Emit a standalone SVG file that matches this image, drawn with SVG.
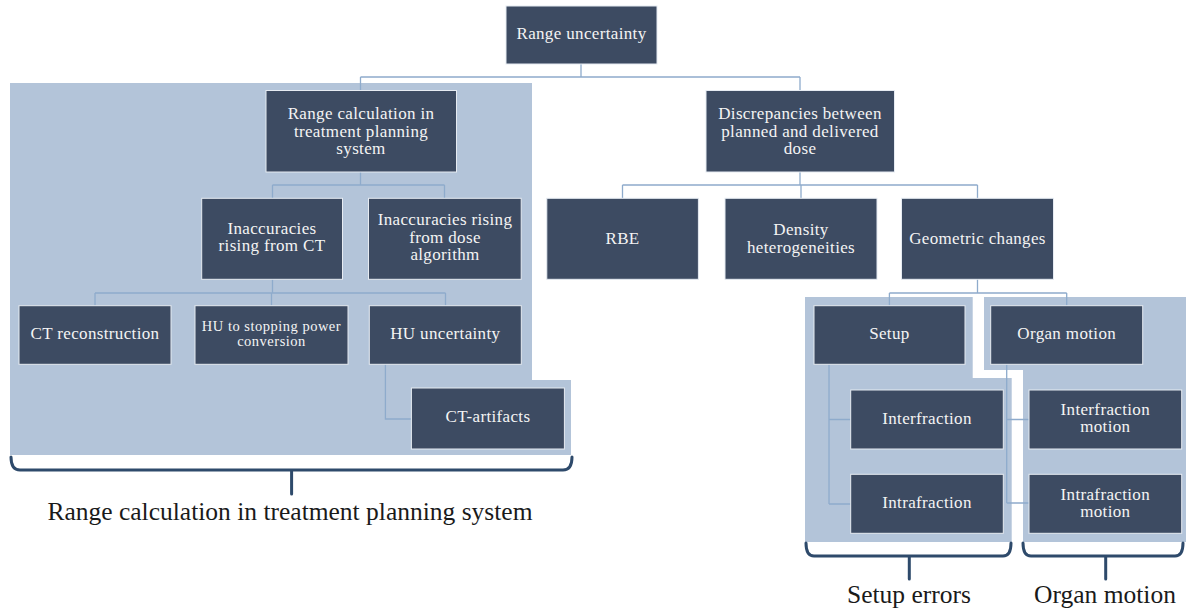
<svg xmlns="http://www.w3.org/2000/svg" width="1186" height="610" viewBox="0 0 1186 610">
<style>
.bg{fill:#b3c4d9}
.box{fill:#3d4b62;stroke:#e6ebf2;stroke-width:1}
.t{font-family:"Liberation Serif","Times New Roman",serif;font-size:17px;letter-spacing:0.35px;fill:#f4f4f4;text-anchor:middle}
.ts{font-size:14.5px;letter-spacing:0.5px}
.con{fill:none;stroke:#8eabcc;stroke-width:1.3}
.brace{fill:none;stroke:#2e4a6b;stroke-width:3;stroke-linecap:round;stroke-linejoin:round}
.lab{font-family:"Liberation Serif","Times New Roman",serif;font-size:25.5px;fill:#1a1a1a;text-anchor:middle}
</style>
<rect width="1186" height="610" fill="#ffffff"/>
<g id="regions">
<path class="bg" d="M10,83 H532 V380 H571 V455 H10 Z"/>
<path class="bg" d="M805,297 H972.7 V378 H1011.7 V542 H805 Z"/>
<path class="bg" d="M984,297 H1186 V542 H1023 V370 H984 Z"/>
</g>
<g id="connectors">
<path class="con" d="M581,64 V77 M360.5,77 H800 M360.5,77 V90.5 M800,77 V90.5"/>
<path class="con" d="M360.5,172 V185 M272.5,185 H444.5 M272.5,185 V198.3 M444.5,185 V198.3"/>
<path class="con" d="M272.5,279.3 V293 M95,293 H445.5 M95,293 V305.7 M271.5,293 V305.7 M445.5,293 V305.7"/>
<path class="con" d="M385.4,364.3 V419 H411.4"/>
<path class="con" d="M800,172 V185 M622.5,185 H977.5 M622.5,185 V198.3 M801,185 V198.3 M977.5,185 V198.3"/>
<path class="con" d="M977.5,279.3 V293 M889.4,293 H1066.7 M889.4,293 V305.7 M1066.7,293 V305.7"/>
<path class="con" d="M829,364.3 V504 M829,419.5 H850.7 M829,504 H850.7"/>
<path class="con" d="M1006.7,364.3 V503 M1006.7,419.5 H1029 M1006.7,503 H1029"/>
</g>
<g id="n-range-uncertainty"><rect class="box" x="506" y="6" width="151" height="58"/><text class="t" x="581.5" y="39">Range uncertainty</text></g>
<g id="n-range-calc"><rect class="box" x="266" y="90.5" width="190.5" height="81.5"/><text class="t" x="361" y="119">Range calculation in</text><text class="t" x="361" y="136.5">treatment planning</text><text class="t" x="361" y="154">system</text></g>
<g id="n-discrepancies"><rect class="box" x="706" y="90.5" width="188.5" height="81.5"/><text class="t" x="800" y="119">Discrepancies between</text><text class="t" x="800" y="136.5">planned and delivered</text><text class="t" x="800" y="154">dose</text></g>
<g id="n-inacc-ct"><rect class="box" x="201.7" y="198.3" width="140.8" height="81"/><text class="t" x="272" y="233.5">Inaccuracies</text><text class="t" x="272" y="251">rising from CT</text></g>
<g id="n-inacc-dose"><rect class="box" x="368.5" y="198.3" width="152.7" height="81"/><text class="t" x="445" y="225">Inaccuracies rising</text><text class="t" x="445" y="242.5">from dose</text><text class="t" x="445" y="260">algorithm</text></g>
<g id="n-rbe"><rect class="box" x="546.8" y="198.3" width="151.6" height="81"/><text class="t" x="622.5" y="243.5">RBE</text></g>
<g id="n-density"><rect class="box" x="725" y="198.3" width="152" height="81"/><text class="t" x="801" y="235">Density</text><text class="t" x="801" y="252.5">heterogeneities</text></g>
<g id="n-geometric"><rect class="box" x="901.5" y="198.3" width="152" height="81"/><text class="t" x="977.5" y="243.5">Geometric changes</text></g>
<g id="n-ct-recon"><rect class="box" x="19" y="305.7" width="152" height="58.6"/><text class="t" x="95" y="338.5">CT reconstruction</text></g>
<g id="n-hu-stop"><rect class="box" x="195" y="305.7" width="153" height="58.6"/><text class="t ts" x="271.5" y="331">HU to stopping power</text><text class="t ts" x="271.5" y="346">conversion</text></g>
<g id="n-hu-unc"><rect class="box" x="369.3" y="305.7" width="152" height="58.6"/><text class="t" x="445.3" y="338.5">HU uncertainty</text></g>
<g id="n-ct-artifacts"><rect class="box" x="411.4" y="388" width="153" height="61"/><text class="t" x="488" y="422">CT-artifacts</text></g>
<g id="n-setup"><rect class="box" x="814" y="305.7" width="151" height="58.6"/><text class="t" x="889.4" y="339">Setup</text></g>
<g id="n-organ-motion"><rect class="box" x="990.7" y="305.7" width="152" height="58.6"/><text class="t" x="1066.7" y="339">Organ motion</text></g>
<g id="n-interfraction"><rect class="box" x="850.7" y="390" width="152.6" height="59"/><text class="t" x="927" y="423.5">Interfraction</text></g>
<g id="n-intrafraction"><rect class="box" x="850.7" y="474.3" width="152.6" height="59"/><text class="t" x="927" y="508">Intrafraction</text></g>
<g id="n-interfraction-motion"><rect class="box" x="1029" y="390" width="152.7" height="59"/><text class="t" x="1105.3" y="414.5">Interfraction</text><text class="t" x="1105.3" y="432">motion</text></g>
<g id="n-intrafraction-motion"><rect class="box" x="1029" y="474.3" width="152.7" height="59"/><text class="t" x="1105.3" y="499.5">Intrafraction</text><text class="t" x="1105.3" y="517">motion</text></g>
<g id="braces">
<path class="brace" d="M11,457 Q11,470 20,470 H563 Q572,470 572,457 M291.6,470 V494"/>
<path class="brace" d="M806,543 Q806,556 814,556 H1003 Q1011,556 1011,543 M909.3,556 V579"/>
<path class="brace" d="M1023,543 Q1023,556 1031,556 H1175 Q1183,556 1183,543 M1105.7,556 V579"/>
</g>
<g id="labels">
<text class="lab" x="290" y="520">Range calculation in treatment planning system</text>
<text class="lab" x="909" y="603">Setup errors</text>
<text class="lab" x="1105" y="603">Organ motion</text>
</g>
</svg>
